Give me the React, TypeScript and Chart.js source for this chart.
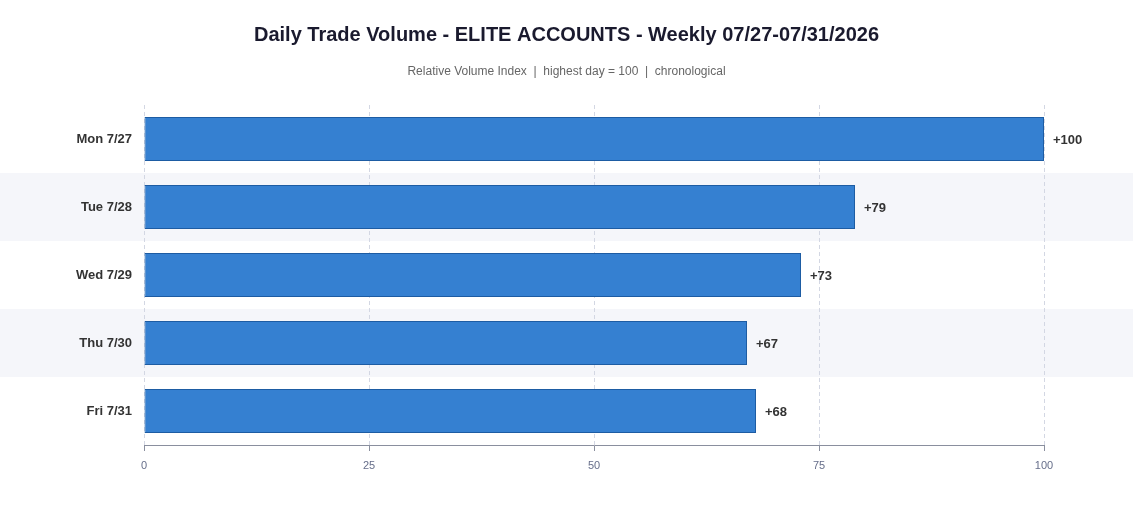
import { useEffect, useRef } from "react";
import { Chart, registerables } from "chart.js";
Chart.register(...registerables);

const days = ["Mon 7/27", "Tue 7/28", "Wed 7/29", "Thu 7/30", "Fri 7/31"];
const volumeIndex = [100, 79, 73, 67, 68];
const xTicks = [0, 25, 50, 75, 100];

const TITLE = "Daily Trade Volume - ELITE ACCOUNTS - Weekly 07/27-07/31/2026";
const SUBTITLE = "Relative Volume Index  |  highest day = 100  |  chronological";
const FONT = "'Liberation Sans', Arial, sans-serif";

// alternating row bands across the whole canvas width
const bandsPlugin = {
  id: "bands",
  beforeDraw(chart: any) {
    const { ctx, scales } = chart;
    const y = scales.y;
    const step = y.getPixelForValue(1) - y.getPixelForValue(0);
    ctx.save();
    ctx.fillStyle = "#f5f6fa";
    days.forEach((_, i) => {
      if (i % 2 === 1) {
        const c = y.getPixelForValue(i);
        ctx.fillRect(0, c - step / 2, chart.width, step);
      }
    });
    ctx.restore();
  },
};

// title + subtitle centred on the full canvas (chart.js centres on the padded box)
const headerPlugin = {
  id: "header",
  afterDraw(chart: any) {
    const { ctx } = chart;
    const cx = chart.width / 2;
    ctx.save();
    ctx.textAlign = "center";
    ctx.textBaseline = "middle";
    ctx.fillStyle = "#1a1a2e";
    ctx.font = `bold 20px ${FONT}`;
    ctx.fillText(TITLE, cx, 35);
    ctx.fillStyle = "#666666";
    ctx.font = `12px ${FONT}`;
    ctx.fillText(SUBTITLE, cx, 72);
    ctx.restore();
  },
};

const valueLabels = {
  id: "valueLabels",
  afterDatasetsDraw(chart: any) {
    const { ctx } = chart;
    const meta = chart.getDatasetMeta(0);
    ctx.save();
    ctx.font = `bold 13px ${FONT}`;
    ctx.fillStyle = "#333333";
    ctx.textBaseline = "middle";
    ctx.textAlign = "left";
    meta.data.forEach((bar: any, i: number) => {
      ctx.fillText("+" + volumeIndex[i], bar.x + 9, bar.y + 1);
    });
    ctx.restore();
  },
};

function VolumeChart() {
  const canvasRef = useRef<HTMLCanvasElement>(null);

  useEffect(() => {
    if (!canvasRef.current) return;
    const ctx = canvasRef.current.getContext("2d");
    if (!ctx) return;

    const chart = new Chart(ctx, {
      type: "bar",
      data: {
        labels: days,
        datasets: [
          {
            label: "Relative Volume Index",
            data: volumeIndex,
            backgroundColor: "#3580d1",
            borderColor: "#1d5ca3",
            borderWidth: 1,
            borderSkipped: false,
            categoryPercentage: 1,
            barPercentage: 0.65,
          },
        ],
      },
      options: {
        indexAxis: "y",
        animation: false,
        responsive: true,
        maintainAspectRatio: false,
        layout: { padding: { left: 0, right: 89, top: 105, bottom: 34 } },
        plugins: {
          legend: { display: false },
          tooltip: { enabled: false },
        },
        scales: {
          x: {
            min: 0,
            max: 100,
            afterBuildTicks: (axis: any) => {
              axis.ticks = xTicks.map((v) => ({ value: v }));
            },
            afterFit: (axis: any) => {
              axis.height = 30;
            },
            ticks: { color: "#666e8a", font: { family: FONT, size: 11 }, padding: 8 },
            grid: { color: "#d3d7e3", tickColor: "#8a8f9e", tickLength: 6, tickBorderDash: [] },
            border: { display: true, color: "#8a8f9e", width: 1, dash: [4, 3] },
          },
          y: {
            afterFit: (axis: any) => {
              axis.width = 144;
            },
            ticks: { color: "#333333", font: { family: FONT, size: 13, weight: "bold" }, padding: 4 },
            grid: { display: false },
            border: { display: false },
          },
        },
      },
      plugins: [bandsPlugin, valueLabels, headerPlugin],
    });

    return () => chart.destroy();
  }, []);

  return <canvas ref={canvasRef} />;
}

export default function App() {
  useEffect(() => {
    document.body.style.margin = "0";
  }, []);
  return (
    <div style={{ width: 1133, height: 509, position: "relative", background: "#ffffff" }}>
      <VolumeChart />
    </div>
  );
}
